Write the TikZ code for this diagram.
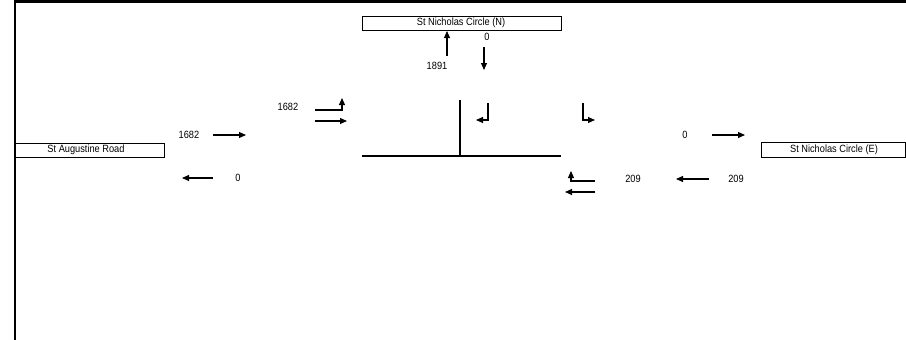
\documentclass[tikz,border=0pt]{standalone}
\usepackage{fontspec}
\setmainfont{Liberation Sans}[FakeStretch=0.88]
\usetikzlibrary{arrows.meta}
\begin{document}
\begin{tikzpicture}[x=1pt,y=-1pt,
  lbl/.style={font=\fontsize{10.5}{11}\selectfont, inner sep=0pt},
  road/.style={draw, line width=0.9pt, inner sep=0pt},
  arr/.style={line width=1.1pt, -{Triangle[length=7pt,width=6pt]}},
  frameline/.style={line width=2.4pt},
  stopline/.style={line width=1.2pt}]
\useasboundingbox (0,0) rectangle (906,340);
% frame
\coordinate (fl0) at (15,0);
\coordinate (fl1) at (15,340);
\coordinate (ft1) at (906,1.3);
\draw[frameline] (fl1) -- (fl0 |- ft1) -- (ft1);
% road boxes
\node[road, minimum width=199pt, minimum height=14pt] (nbox) at (461.5,23) {};
\node[lbl] (ntxt) at (461,22.5) {St Nicholas Circle (N)};
\node[road, minimum width=149pt, minimum height=14pt] (wbox) at (89.5,150) {};
\node[lbl] (wtxt) at (86,149.5) {St Augustine Road};
\node[road, minimum width=144pt, minimum height=15pt] (ebox) at (833,149.5) {};
\node[lbl] (etxt) at (834,149.5) {St Nicholas Circle (E)};
% north approach
\coordinate (nu0) at (447,56);
\coordinate (nu1) at (447,31);
\draw[arr] (nu0) -- (nu1);
\node[lbl] (n1891) at (437,66) {1891};
\coordinate (nd0) at (484,47);
\coordinate (nd1) at (484,70);
\draw[arr] (nd0) -- (nd1);
\node[lbl] (n0) at (487,37) {0};
% west
\node[lbl] (w1682) at (189,135) {1682};
\coordinate (we0) at (213,135);
\coordinate (we1) at (246,135);
\draw[arr] (we0) -- (we1);
\coordinate (ww0) at (213,178);
\coordinate (ww1) at (182,178);
\draw[arr] (ww0) -- (ww1);
\node[lbl] (w0) at (238,178) {0};
% west approach lanes
\node[lbl] (a1682) at (288,107) {1682};
\coordinate (la0) at (315,110);
\coordinate (la1) at (342,110);
\coordinate (la2) at (342,98);
\draw[arr] (la0) -- (la1) -- (la2);
\coordinate (lb0) at (315,121);
\coordinate (lb1) at (347,121);
\draw[arr] (lb0) -- (lb1);
% centre lines
\coordinate (c0) at (460,100);
\coordinate (c1) at (460,156);
\draw[line width=1.8pt] (c0) -- (c1);
\coordinate (h0) at (362,156);
\coordinate (h1) at (561,156);
\draw[stopline] (h0) -- (h1);
% turning arrows north side
\coordinate (ta0) at (488,103);
\coordinate (ta1) at (488,120);
\coordinate (ta2) at (476,120);
\draw[arr] (ta0) -- (ta1) -- (ta2);
\coordinate (tb0) at (583,103);
\coordinate (tb1) at (583,120);
\coordinate (tb2) at (595,120);
\draw[arr] (tb0) -- (tb1) -- (tb2);
% east
\node[lbl] (e0) at (685,135) {0};
\coordinate (ee0) at (712,135);
\coordinate (ee1) at (745,135);
\draw[arr] (ee0) -- (ee1);
\node[lbl] (e209a) at (633,179) {209};
\coordinate (ew0) at (709,179);
\coordinate (ew1) at (676,179);
\draw[arr] (ew0) -- (ew1);
\node[lbl] (e209b) at (736,179) {209};
% east approach lanes
\coordinate (ea0) at (595,181);
\coordinate (ea1) at (571,181);
\coordinate (ea2) at (571,171);
\draw[arr] (ea0) -- (ea1) -- (ea2);
\coordinate (eb0) at (595,192);
\coordinate (eb1) at (565,192);
\draw[arr] (eb0) -- (eb1);
\end{tikzpicture}
\end{document}
